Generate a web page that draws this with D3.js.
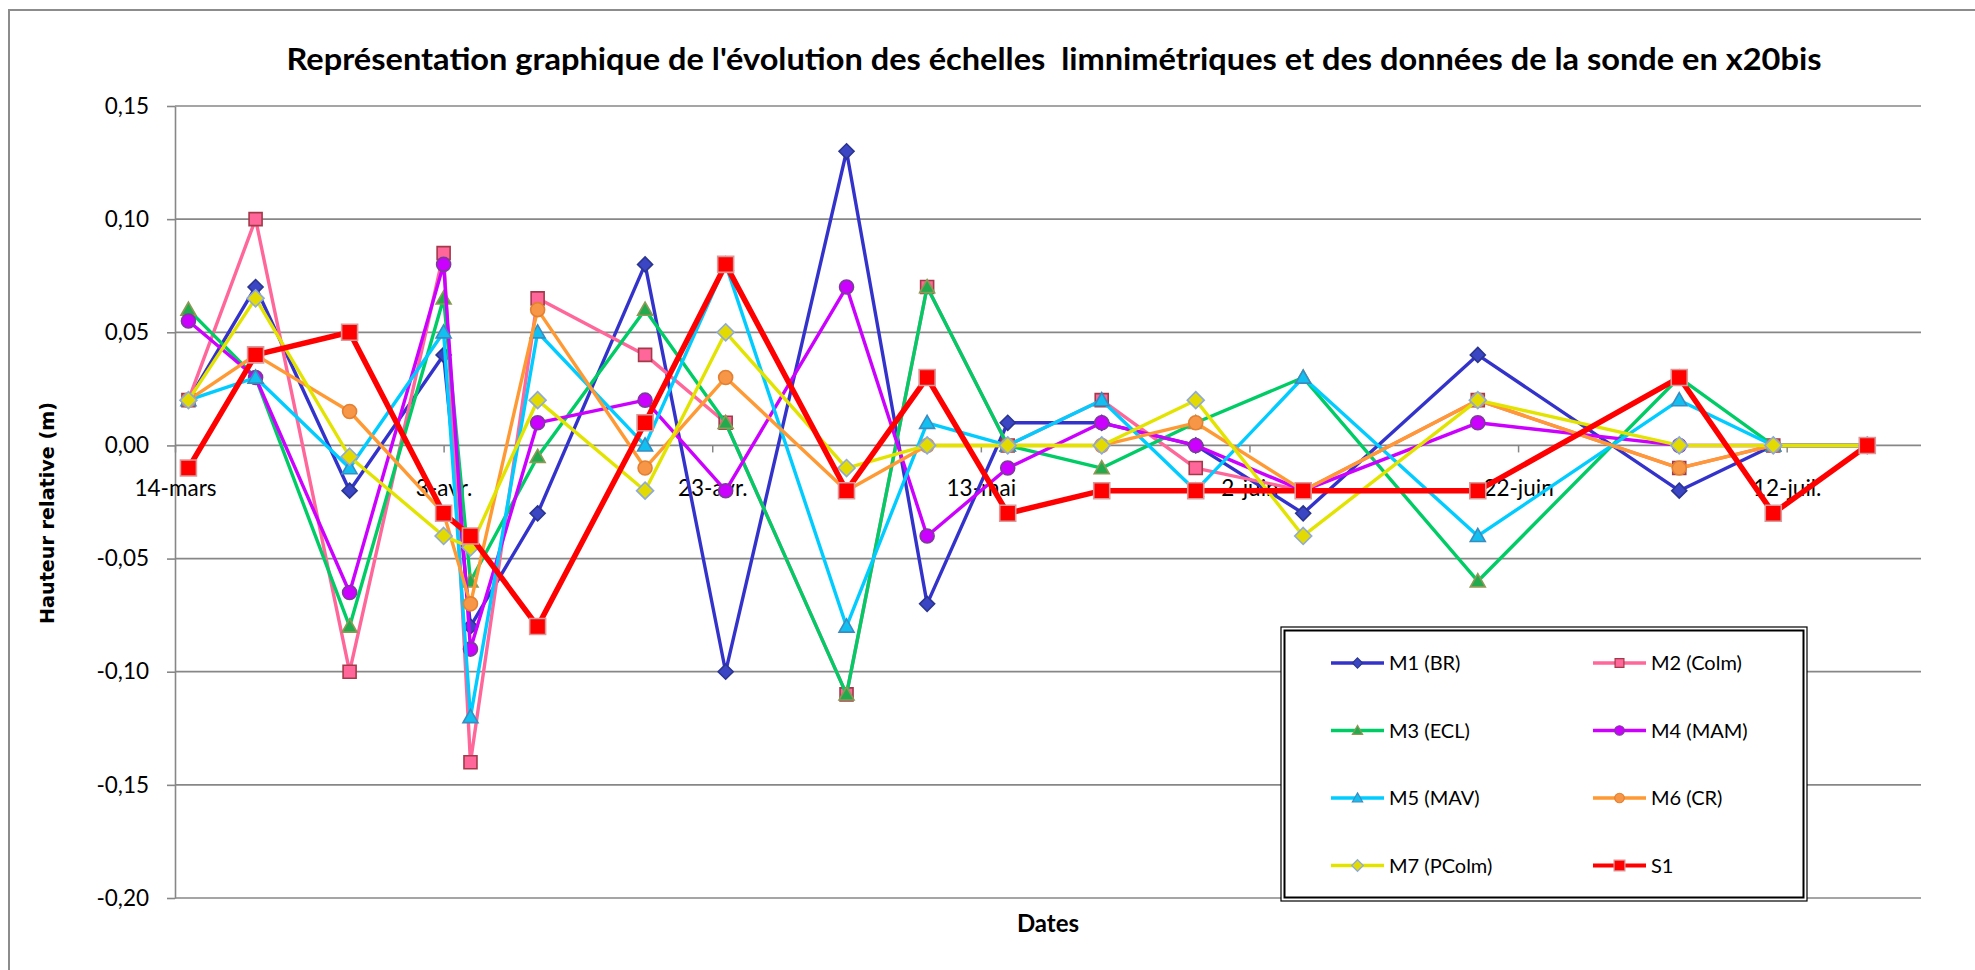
<!DOCTYPE html>
<html>
<head>
<meta charset="utf-8">
<script src="https://cdn.jsdelivr.net/npm/d3@7"></script>
<style>
  html, body { margin: 0; padding: 0; background: #fff; }
  svg { display: block; }
</style>
</head>
<body>
<svg id="chart" width="1975" height="970"></svg>
<script>
const dates = [
  '2013-03-15', '2013-03-20', '2013-03-27', '2013-04-03', '2013-04-05', '2013-04-10',
  '2013-04-18', '2013-04-24', '2013-05-03', '2013-05-09', '2013-05-15', '2013-05-22',
  '2013-05-29', '2013-06-06', '2013-06-19', '2013-07-04', '2013-07-11', '2013-07-18'
];
const tickDates = ['2013-03-14', '2013-04-03', '2013-04-23', '2013-05-13', '2013-06-02', '2013-06-22', '2013-07-12'];
const tickLabels = ['14-mars', '3-avr.', '23-avr.', '13-mai', '2-juin', '22-juin', '12-juil.'];
const xDomain = ['2013-03-14', '2013-07-22'];
const yTicks = [0.15, 0.10, 0.05, 0.00, -0.05, -0.10, -0.15, -0.20];

const seriesNames = ['M1 (BR)', 'M2 (Colm)', 'M3 (ECL)', 'M4 (MAM)', 'M5 (MAV)', 'M6 (CR)', 'M7 (PColm)', 'S1'];
const m1 = [0.02, 0.07, -0.02, 0.04, -0.08, -0.03, 0.08, -0.10, 0.13, -0.07, 0.01, 0.01, 0.00, -0.03, 0.04, -0.02, 0.00, 0.00];
const m2 = [0.02, 0.10, -0.10, 0.085, -0.14, 0.065, 0.04, 0.01, -0.11, 0.07, 0.00, 0.02, -0.01, -0.02, 0.02, -0.01, 0.00, 0.00];
const m3 = [0.06, 0.03, -0.08, 0.065, -0.06, -0.005, 0.06, 0.01, -0.11, 0.07, 0.00, -0.01, 0.01, 0.03, -0.06, 0.03, 0.00, 0.00];
const m4 = [0.055, 0.03, -0.065, 0.08, -0.09, 0.01, 0.02, -0.02, 0.07, -0.04, -0.01, 0.01, 0.00, -0.02, 0.01, 0.00, 0.00, 0.00];
const m5 = [0.02, 0.03, -0.01, 0.05, -0.12, 0.05, 0.00, 0.08, -0.08, 0.01, 0.00, 0.02, -0.02, 0.03, -0.04, 0.02, 0.00, 0.00];
const m6 = [0.02, 0.04, 0.015, -0.03, -0.07, 0.06, -0.01, 0.03, -0.02, 0.00, 0.00, 0.00, 0.01, -0.02, 0.02, -0.01, 0.00, 0.00];
const m7 = [0.02, 0.065, -0.005, -0.04, -0.045, 0.02, -0.02, 0.05, -0.01, 0.00, 0.00, 0.00, 0.02, -0.04, 0.02, 0.00, 0.00, 0.00];
const s1 = [-0.01, 0.04, 0.05, -0.03, -0.04, -0.08, 0.01, 0.08, -0.02, 0.03, -0.03, -0.02, -0.02, -0.02, -0.02, 0.03, -0.03, 0.00];
const seriesValues = [m1, m2, m3, m4, m5, m6, m7, s1];

// look of each series, same order as seriesNames
const styles = [
  { line: '#3333CC', width: 3.4, shape: 'diamond', size: 15, fill: '#3B46C4', stroke: '#2B3590' },
  { line: '#FF6699', width: 3.4, shape: 'square', size: 13, fill: '#FF6699', stroke: '#A33A4A' },
  { line: '#00CC66', width: 3.4, shape: 'triangle', size: 15, fill: '#22AA4E', stroke: '#8C9A55' },
  { line: '#CC00FF', width: 3.4, shape: 'circle', size: 14, fill: '#CC00FF', stroke: '#7B3C99' },
  { line: '#00CCFF', width: 3.4, shape: 'triangle', size: 15, fill: '#11C0F0', stroke: '#3A8CC0' },
  { line: '#FF9933', width: 3.4, shape: 'circle', size: 14, fill: '#F79646', stroke: '#E38032' },
  { line: '#E3E300', width: 3.4, shape: 'diamond', size: 17, fill: '#E2DA00', stroke: '#8EA9DB' },
  { line: '#FF0000', width: 5.5, shape: 'square', size: 16, fill: '#FF0000', stroke: '#DB9A9A' }
];

const parseDate = d3.utcParse('%Y-%m-%d');
const fr = d3.formatLocale({ decimal: ',', thousands: ' ', grouping: [3], currency: ['', ' €'], minus: '-' });
const fmt = fr.format('.2f');

const bounds = { left: 175, right: 1921, top: 106, bottom: 898 };

const x = d3.scaleUtc()
  .domain(xDomain.map(parseDate))
  .range([bounds.left, bounds.right]);
const y = d3.scaleLinear()
  .domain([-0.20, 0.15])
  .range([bounds.bottom, bounds.top]);

const svg = d3.select('#chart');
const grey = '#878787';

svg.append('rect')
  .attr('x', 9).attr('y', 10)
  .attr('width', 2000).attr('height', 1000)
  .attr('fill', '#fff')
  .attr('stroke', '#8c8c8c')
  .attr('stroke-width', 2);

svg.append('text')
  .attr('x', 1054).attr('y', 70)
  .attr('text-anchor', 'middle')
  .attr('font-family', 'Lato, sans-serif')
  .attr('font-weight', 'bold')
  .attr('font-size', 30)
  .attr('textLength', 1535)
  .attr('lengthAdjust', 'spacingAndGlyphs')
  .style('white-space', 'pre')
  .text('Représentation graphique de l\'évolution des échelles  limnimétriques et des données de la sonde en x20bis');

// gridlines + y axis
const yAxis = d3.axisLeft(y)
  .tickValues(yTicks)
  .tickFormat(fmt)
  .tickSizeInner(8)
  .tickSizeOuter(0)
  .tickPadding(18);
const yAxisG = svg.append('g')
  .attr('transform', `translate(${bounds.left},0)`)
  .call(yAxis);
yAxisG.select('.domain').attr('stroke', grey).attr('stroke-width', 1.6);
yAxisG.selectAll('.tick line').attr('stroke', grey).attr('stroke-width', 1.6);
yAxisG.selectAll('.tick text')
  .attr('font-family', 'Lato, sans-serif')
  .attr('font-size', 22.5)
  .attr('fill', '#000');

svg.append('g').selectAll('line')
  .data(yTicks)
  .join('line')
  .attr('x1', bounds.left).attr('x2', bounds.right)
  .attr('y1', d => y(d)).attr('y2', d => y(d))
  .attr('stroke', grey)
  .attr('stroke-width', 1.7);

// date axis crosses at zero
const xAxis = d3.axisBottom(x)
  .tickValues(tickDates.map(parseDate))
  .tickFormat((d, i) => tickLabels[i])
  .tickSizeInner(7)
  .tickSizeOuter(0)
  .tickPadding(28);
const xAxisG = svg.append('g')
  .attr('transform', `translate(0,${y(0)})`)
  .call(xAxis);
xAxisG.select('.domain').remove();
xAxisG.selectAll('.tick line').attr('stroke', grey).attr('stroke-width', 1.5);
xAxisG.selectAll('.tick text')
  .attr('font-family', 'Lato, sans-serif')
  .attr('font-size', 22.5)
  .attr('fill', '#000');

svg.append('text')
  .attr('transform', 'translate(54,513) rotate(-90)')
  .attr('text-anchor', 'middle')
  .attr('font-family', '"DejaVu Sans", sans-serif')
  .attr('font-weight', 'bold')
  .attr('font-size', 19)
  .attr('textLength', 222)
  .attr('lengthAdjust', 'spacingAndGlyphs')
  .text('Hauteur relative (m)');

svg.append('text')
  .attr('x', (bounds.left + bounds.right) / 2).attr('y', 932)
  .attr('text-anchor', 'middle')
  .attr('font-family', 'Lato, sans-serif')
  .attr('font-weight', 'bold')
  .attr('font-size', 24)
  .text('Dates');

const markerPath = (shape, size) => {
  const h = size / 2;
  if (shape === 'diamond') return `M0,${-h}L${h},0L0,${h}L${-h},0Z`;
  if (shape === 'square') return `M${-h},${-h}H${h}V${h}H${-h}Z`;
  if (shape === 'triangle') return `M0,${-h}L${h},${h * 0.75}L${-h},${h * 0.75}Z`;
  return d3.symbol(d3.symbolCircle, Math.PI * h * h)();
};

const series = seriesNames.map((name, i) => ({
  name,
  style: styles[i],
  points: dates.map((d, j) => ({ date: parseDate(d), value: seriesValues[i][j] }))
}));

const line = d3.line()
  .x(d => x(d.date))
  .y(d => y(d.value));

const plot = svg.append('g');
series.forEach(s => {
  const g = plot.append('g');
  g.append('path')
    .datum(s.points)
    .attr('d', line)
    .attr('fill', 'none')
    .attr('stroke', s.style.line)
    .attr('stroke-width', s.style.width)
    .attr('stroke-linejoin', 'round');
  g.selectAll('path.marker')
    .data(s.points)
    .join('path')
    .classed('marker', true)
    .attr('transform', d => `translate(${x(d.date)},${y(d.value)})`)
    .attr('d', markerPath(s.style.shape, s.style.size))
    .attr('fill', s.style.fill)
    .attr('stroke', s.style.stroke)
    .attr('stroke-width', 1.6);
});

// legend
const legend = svg.append('g');
legend.append('rect')
  .attr('x', 1281).attr('y', 627)
  .attr('width', 526).attr('height', 274)
  .attr('fill', '#fff')
  .attr('stroke', '#000')
  .attr('stroke-width', 1.2);
legend.append('rect')
  .attr('x', 1284.5).attr('y', 630.5)
  .attr('width', 519).attr('height', 267)
  .attr('fill', 'none')
  .attr('stroke', '#000')
  .attr('stroke-width', 2);

const items = legend.selectAll('g.item')
  .data(series)
  .join('g')
  .classed('item', true)
  .attr('transform', (d, i) => `translate(${1331 + (i % 2) * 262},${663 + Math.floor(i / 2) * 67.5})`);
items.append('line')
  .attr('x1', 0).attr('x2', 53)
  .attr('stroke', d => d.style.line)
  .attr('stroke-width', d => Math.min(d.style.width, 4));
items.append('path')
  .attr('transform', 'translate(26.5,0)')
  .attr('d', d => markerPath(d.style.shape, d.style.size * 0.68))
  .attr('fill', d => d.style.fill)
  .attr('stroke', d => d.style.stroke)
  .attr('stroke-width', 1.2);
items.append('text')
  .attr('x', 58)
  .attr('dy', '0.35em')
  .attr('font-family', 'Lato, sans-serif')
  .attr('font-size', 20)
  .attr('fill', '#000')
  .text(d => d.name);
</script>
</body>
</html>
